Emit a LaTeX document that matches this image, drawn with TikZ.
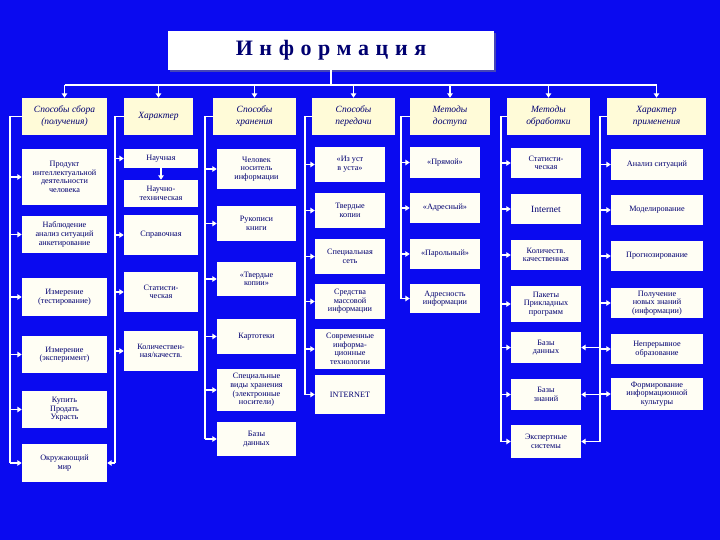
\documentclass[tikz,border=0pt]{standalone}
\usepackage{fontspec}
\setmainfont{Liberation Serif}
\usetikzlibrary{arrows.meta,shadows}
\definecolor{bg}{HTML}{0A0AF0}
\definecolor{ink}{HTML}{000070}
\definecolor{hdr}{HTML}{FFFBD8}
\definecolor{itmc}{HTML}{FFFEF4}
\tikzset{
  base/.style={draw=none,inner sep=1pt,align=center,text=ink,font=\fontsize{8.2}{8.6}\selectfont},
  itm/.style={base,fill=itmc},
  hd/.style={base,fill=hdr,font=\fontsize{9.5}{12}\selectfont\itshape},
  ln/.style={draw=white,line width=1.6pt},
  arr/.style={ln,-{Triangle[length=4.5pt,width=5.5pt]}},
}
\newcommand\bx[7]{\node[#1,minimum width={(#5-#3)*1pt},minimum height={(#6-#4)*1pt}] (#2) at ({(#3+#5)/2},{-(#4+#6)/2}) {#7};}
\begin{document}
\begin{tikzpicture}[x=1pt,y=1pt]
\fill[bg] (0,0) rectangle (720,-540);
\useasboundingbox (0,0) rectangle (720,-540);
\node[fill=white,drop shadow={shadow xshift=2pt,shadow yshift=-2pt,fill=gray},minimum width=326pt,minimum height=39pt,text=ink,font=\fontsize{22}{24}\selectfont\bfseries\addfontfeature{LetterSpace=30}] (t) at (331,-50.5) {Информация};
% headers
\bx{hd}{h1}{22}{98}{107}{135}{Способы сбора\\(получения)}
\bx{hd}{h2}{124}{98}{193}{135}{Характер}
\bx{hd}{h3}{213}{98}{296}{135}{Способы\\хранения}
\bx{hd}{h4}{312}{98}{395}{135}{Способы\\передачи}
\bx{hd}{h5}{410}{98}{490}{135}{Методы\\доступа}
\bx{hd}{h6}{507}{98}{590}{135}{Методы\\обработки}
\bx{hd}{h7}{607}{98}{706}{135}{Характер\\применения}
% column 1
\bx{itm}{a1}{22}{149}{107}{205}{Продукт\\интеллектуальной\\деятельности\\человека}
\bx{itm}{a2}{22}{216}{107}{253}{Наблюдение\\анализ ситуаций\\анкетирование}
\bx{itm}{a3}{22}{278}{107}{316}{Измерение\\(тестирование)}
\bx{itm}{a4}{22}{336}{107}{373}{Измерение\\(эксперимент)}
\bx{itm}{a5}{22}{391}{107}{428}{Купить\\Продать\\Украсть}
\bx{itm}{a6}{22}{444}{107}{482}{Окружающий\\мир}
% column 2
\bx{itm}{b1}{124}{149}{198}{168}{Научная}
\bx{itm}{b2}{124}{180}{198}{207}{Научно-\\техническая}
\bx{itm}{b3}{124}{215}{198}{255}{Справочная}
\bx{itm}{b4}{124}{272}{198}{312}{Статисти-\\ческая}
\bx{itm}{b5}{124}{331}{198}{371}{Количествен-\\ная/качеств.}
% column 3
\bx{itm}{c1}{217}{149}{296}{189}{Человек\\носитель\\информации}
\bx{itm}{c2}{217}{206}{296}{241}{Рукописи\\книги}
\bx{itm}{c3}{217}{262}{296}{296}{«Твердые\\копии»}
\bx{itm}{c4}{217}{319}{296}{354}{Картотеки}
\bx{itm}{c5}{217}{369}{296}{411}{Специальные\\виды хранения\\(электронные\\носители)}
\bx{itm}{c6}{217}{422}{296}{456}{Базы\\данных}
% column 4
\bx{itm}{d1}{315}{147}{385}{182}{«Из уст\\в уста»}
\bx{itm}{d2}{315}{193}{385}{228}{Твердые\\копии}
\bx{itm}{d3}{315}{239}{385}{274}{Специальная\\сеть}
\bx{itm}{d4}{315}{284}{385}{319}{Средства\\массовой\\информации}
\bx{itm}{d5}{315}{329}{385}{369}{Современные\\информа-\\ционные\\технологии}
\bx{itm}{d6}{315}{375}{385}{414}{INTERNET}
% column 5
\bx{itm}{e1}{410}{147}{480}{178}{«Прямой»}
\bx{itm}{e2}{410}{193}{480}{223}{«Адресный»}
\bx{itm}{e3}{410}{239}{480}{269}{«Парольный»}
\bx{itm}{e4}{410}{284}{480}{313}{Адресность\\информации}
% column 6
\bx{itm}{f1}{511}{148}{581}{178}{Статисти-\\ческая}
\bx{itm}{f2}{511}{194}{581}{224}{\fontsize{9.5}{10}\selectfont Internet}
\bx{itm}{f3}{511}{240}{581}{270}{Количеств.\\качественная}
\bx{itm}{f4}{511}{286}{581}{322}{Пакеты\\Прикладных\\программ}
\bx{itm}{f5}{511}{332}{581}{363}{Базы\\данных}
\bx{itm}{f6}{511}{379}{581}{410}{Базы\\знаний}
\bx{itm}{f7}{511}{425}{581}{458}{Экспертные\\системы}
% column 7
\bx{itm}{g1}{611}{149}{703}{180}{Анализ ситуаций}
\bx{itm}{g2}{611}{195}{703}{225}{Моделирование}
\bx{itm}{g3}{611}{241}{703}{271}{Прогнозирование}
\bx{itm}{g4}{611}{288}{703}{318}{Получение\\новых знаний\\(информации)}
\bx{itm}{g5}{611}{334}{703}{364}{Непрерывное\\образование}
\bx{itm}{g6}{611}{378}{703}{410}{Формирование\\информационной\\культуры}
% column lines
\coordinate (L1) at (10,0);
\coordinate (L2) at (115,0);
\coordinate (L3) at (205,0);
\coordinate (L4) at (305,0);
\coordinate (L5) at (401,0);
\coordinate (L6) at (501,0);
\coordinate (L7) at (600,0);
\coordinate (bus) at (331,-85);
% title bus
\draw[ln] (t.south) -- (bus);
\draw[ln] (h1.north |- bus) -- (h7.north |- bus);
\foreach \h in {h1,h2,h3,h4,h5,h6,h7} \draw[arr] (\h.north |- bus) -- (\h.north);
% verticals
\draw[ln] (h1.west) -| (L1 |- a6.west);
\draw[ln] (h2.west) -| (L2 |- a6.east);
\draw[ln] (h3.west) -| (L3 |- c6.west);
\draw[ln] (h4.west) -| (L4 |- d6.west);
\draw[ln] (h5.west) -| (L5 |- e4.west);
\draw[ln] (h6.west) -| (L6 |- f7.west);
\draw[ln] (h7.west) -| (L7 |- f7.east);
\foreach \n in {a1,a2,a3,a4,a5,a6} \draw[arr] (L1 |- \n.west) -- (\n.west);
\foreach \n in {b1,b3,b4,b5} \draw[arr] (L2 |- \n.west) -- (\n.west);
\draw[arr] (L2 |- a6.east) -- (a6.east);
\draw[arr] (b1.south) -- (b2.north);
\foreach \n in {c1,c2,c3,c4,c5,c6} \draw[arr] (L3 |- \n.west) -- (\n.west);
\foreach \n in {d1,d2,d3,d4,d5,d6} \draw[arr] (L4 |- \n.west) -- (\n.west);
\foreach \n in {e1,e2,e3,e4} \draw[arr] (L5 |- \n.west) -- (\n.west);
\foreach \n in {f1,f2,f3,f4,f5,f6,f7} \draw[arr] (L6 |- \n.west) -- (\n.west);
\foreach \n in {g1,g2,g3,g4,g5,g6} \draw[arr] (L7 |- \n.west) -- (\n.west);
\foreach \n in {f5,f6,f7} \draw[arr] (L7 |- \n.east) -- (\n.east);
\end{tikzpicture}
\end{document}
